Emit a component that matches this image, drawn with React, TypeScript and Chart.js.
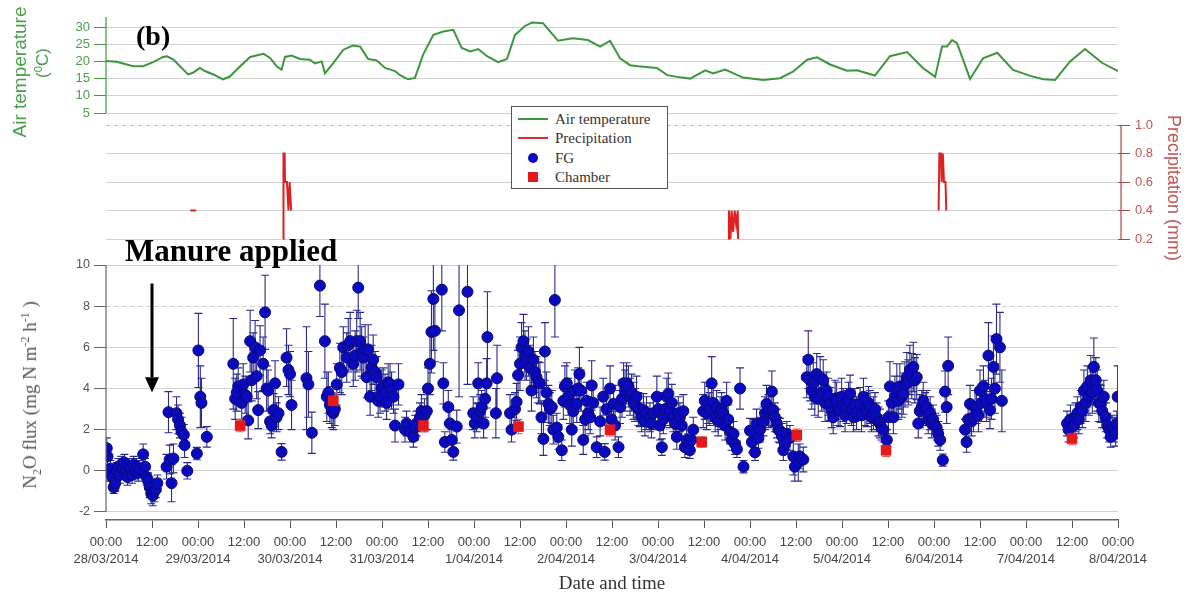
import React, { useEffect, useRef } from 'react';
import { Chart, registerables } from 'chart.js';

Chart.register(...registerables);

// ---------- axis labels ----------
const dayLabels = ['28/03/2014', '29/03/2014', '30/03/2014', '31/03/2014', '1/04/2014', '2/04/2014', '3/04/2014', '4/04/2014', '5/04/2014', '6/04/2014', '7/04/2014', '8/04/2014'];
const timeLabels = ['00:00', '12:00'];
const xTickHours = [0, 12, 24, 36, 48, 60, 72, 84, 96, 108, 120, 132, 144, 156, 168, 180, 192, 204, 216, 228, 240, 252, 264];
const tempTicks = [5, 10, 15, 20, 25, 30];
const precipTicks = [0.2, 0.4, 0.6, 0.8, 1.0];
const fluxTicks = [-2, 0, 2, 4, 6, 8, 10];

// ---------- air temperature (hours since 28/03/2014 00:00, °C) ----------
const tempHours = [0, 2.8, 5.4, 7.1, 9.7, 12.3, 14.9, 15.9, 17.5, 19.3, 21.4, 22.7, 24.5, 25.8, 28.0, 30.5, 32.3, 35.0, 37.6, 41.1, 42.8, 44.5, 45.8, 46.7, 48.4, 50.6, 53.2, 54.5, 56.3, 57.1, 59.3, 61.9, 64.4, 66.3, 68.4, 70.6, 72.8, 75.4, 76.7, 78.8, 80.6, 82.7, 85.4, 88.0, 90.6, 92.8, 95.0, 97.1, 99.4, 102.3, 104.6, 106.7, 109.3, 111.1, 114.0, 117.9, 121.8, 125.7, 128.9, 131.5, 134.1, 136.7, 138.8, 143.7, 146.4, 149.0, 152.4, 156.3, 158.4, 161.5, 166.2, 171.4, 175.8, 179.2, 182.9, 185.5, 188.9, 193.3, 195.9, 200.6, 204.5, 209.0, 213.1, 216.3, 218.1, 219.4, 220.7, 222.0, 223.3, 225.4, 228.8, 232.5, 236.6, 241.1, 244.5, 247.6, 251.5, 255.4, 259.8, 264.0];
const tempValues = [20.1, 19.9, 19.1, 18.6, 18.6, 19.8, 21.3, 21.5, 20.6, 18.6, 16.2, 16.7, 18.1, 17.2, 16.2, 14.8, 15.6, 18.6, 21.3, 22.2, 21.0, 18.6, 17.6, 21.3, 21.7, 20.7, 20.5, 19.4, 20.0, 16.5, 19.5, 23.4, 24.6, 24.3, 20.7, 20.3, 18.1, 17.2, 16.0, 14.8, 15.2, 21.9, 27.7, 28.7, 29.2, 23.9, 22.9, 23.6, 21.5, 19.8, 20.7, 27.7, 30.3, 31.3, 31.1, 26.0, 26.7, 26.2, 24.3, 26.0, 20.9, 18.9, 18.6, 18.1, 16.0, 15.5, 15.0, 17.4, 16.5, 17.6, 15.3, 14.6, 15.1, 17.0, 20.5, 21.2, 19.1, 17.3, 17.4, 15.9, 21.5, 22.7, 18.1, 15.5, 24.3, 24.3, 26.2, 25.3, 21.4, 14.9, 20.9, 22.5, 17.5, 15.8, 14.8, 14.6, 20.0, 23.6, 19.6, 17.2];

// ---------- precipitation (mm), null = no rain ----------
const precipHours = [22.0, 23.5, 23.6, 46.2, 46.3, 46.6, 46.7, 47.2, 47.6, 47.9, 48.3, 48.4, 162.4, 162.5, 162.9, 163.2, 163.6, 164.0, 164.4, 164.8, 164.9, 165.0, 217.2, 217.4, 217.8, 218.0, 218.3, 218.6, 219.0, 219.2];
const precipValues = [0.4, 0.4, null, 0.2, 0.8, 0.8, 0.6, 0.6, 0.4, 0.6, 0.4, null, 0.2, 0.4, 0.2, 0.4, 0.25, 0.4, 0.3, 0.4, 0.2, null, 0.4, 0.8, 0.8, 0.6, 0.8, 0.6, 0.6, 0.4];

// ---------- FG N2O flux (mg N m-2 h-1) ----------
const fgHours = [
  0.2, 0.4, 0.8, 1.2, 1.6, 2.0, 2.4, 2.8, 3.2, 3.6, 4.0, 4.4,
  4.8, 5.2, 5.6, 6.0, 6.4, 6.8, 7.2, 7.6, 8.0, 8.4, 8.8, 9.7,
  10.2, 10.6, 11.0, 11.4, 11.8, 12.2, 12.6, 13.0, 13.4, 15.8, 16.3, 16.6,
  17.1, 17.6, 18.4, 18.8, 19.3, 19.7, 20.3, 20.5, 21.2, 23.7, 24.1, 24.6,
  24.9, 26.3,
  33.2, 33.7, 34.1, 34.5, 35.4, 35.8, 36.3, 36.7, 37.1, 37.6, 38.0, 38.4,
  38.9, 39.3, 39.7, 40.2, 41.0, 41.5, 41.9, 42.3, 42.8, 43.2, 43.7, 44.1,
  44.5, 45.0, 45.8, 47.1, 47.6, 48.0, 48.4,
  52.3, 52.8, 53.7, 55.8, 57.1, 57.6, 58.0, 58.4, 58.9, 59.3, 59.7, 60.2,
  61.0, 61.5, 61.9, 62.8, 63.2, 63.7, 64.5, 65.0, 65.4, 65.8, 66.3, 66.7,
  67.1, 67.6, 68.0, 68.4, 68.9, 69.3, 69.7, 70.2, 70.6, 71.0, 71.5, 71.9,
  72.3, 72.8, 73.2, 73.6, 74.1, 74.5, 75.0, 75.4, 76.3,
  78.0, 78.4, 79.3, 80.2, 80.6, 81.0, 81.9, 82.3, 83.1, 83.7, 84.0, 84.5,
  84.9, 85.4, 85.8, 87.6, 88.0, 88.4, 89.3, 89.7, 90.2, 90.6, 91.5, 92.1,
  94.3, 95.8, 96.2, 96.7, 97.1, 97.6, 98.0, 98.5, 98.9, 99.3, 99.5, 101.7,
  102.0,
  105.4, 105.8, 106.7, 107.1, 107.5, 108.0, 108.4, 108.9, 109.3, 109.7, 110.2, 110.6,
  111.0, 111.5, 111.9, 112.3, 112.8, 113.2, 113.6, 114.1, 114.5, 114.9, 115.4, 115.8,
  116.3, 116.7, 117.1, 117.6, 118.0, 118.9, 119.3, 119.7, 120.2, 120.6, 121.0, 121.5,
  121.9, 122.3, 122.8, 123.2, 123.5, 123.9, 124.5, 125.0, 125.4, 125.8, 126.3, 126.7,
  127.1, 128.0, 128.9, 129.7, 130.1, 130.6, 131.5, 131.9, 132.4, 132.8, 133.7, 134.1,
  134.6, 135.0, 135.4, 135.8, 136.3, 136.7, 137.1, 137.6, 138.0, 138.4, 138.9, 139.3,
  139.7, 140.2, 140.6, 141.0, 141.9, 142.3, 142.8, 143.7, 144.1, 144.5, 145.0, 145.4,
  145.9, 146.3, 146.7, 147.1, 147.6, 148.0, 148.5, 148.9, 149.3, 149.7, 150.2, 150.6,
  151.0, 151.5, 151.9, 152.3, 152.8, 153.2, 155.8, 156.2, 156.7, 157.1, 157.5, 158.0,
  158.4, 158.9, 159.3, 159.7, 160.2, 160.6, 161.0, 161.5, 161.9, 162.3, 162.8, 163.2,
  163.7, 164.1, 164.6, 165.4, 166.3, 168.0, 168.5, 168.9, 169.3, 169.7, 170.2, 170.6,
  171.5, 171.9, 172.3, 172.8, 173.2, 173.7, 174.1, 174.5, 175.0, 175.4, 175.8, 176.3,
  176.7, 177.1, 177.6, 178.4, 179.3, 179.7, 180.6, 181.0, 181.9,
  182.8, 183.2, 183.7, 184.1, 184.5, 184.9, 185.4, 185.8, 186.3, 186.7, 187.1, 187.6,
  188.0, 188.4, 188.9, 189.3, 189.7, 190.2, 190.6, 191.0, 191.5, 191.9, 192.3, 192.8,
  193.2, 193.7, 194.1, 194.5, 195.0, 195.4, 195.8, 196.7, 197.1, 197.6, 198.0, 198.5,
  198.9, 199.3, 199.7, 200.2, 200.6, 201.0, 201.5, 201.9, 202.3, 202.8, 203.7, 204.1,
  204.5, 205.0, 205.4, 205.8, 206.3, 206.7, 207.1, 207.6, 208.0, 208.4, 208.9, 209.3,
  209.7, 210.2, 210.6, 211.0, 211.5, 211.9, 212.3, 212.8, 213.2, 213.7, 214.1, 214.5,
  215.0, 215.4, 215.8, 216.3, 216.7, 217.1, 217.6, 218.3, 218.9, 219.3, 219.7,
  224.1, 224.5, 224.9, 225.4, 225.8, 226.3, 226.7, 227.1, 227.6, 228.0, 228.4, 228.9,
  229.3, 229.7, 230.2, 230.6, 231.0, 231.5, 231.9, 232.3, 233.2, 233.7,
  250.7, 251.1, 251.6, 252.5, 252.9, 253.4, 253.8, 254.3, 254.7, 255.1, 255.6, 256.0,
  256.4, 256.9, 257.3, 257.7, 258.2, 258.6, 259.0, 259.5, 259.9, 260.3, 260.8, 261.2,
  261.7, 262.1, 262.5, 263.0, 263.4, 263.7, 263.9,
];
const fgFlux = [
  1.1, 0.7, -0.1, 0.1, -0.3, -0.8, -0.6, 0.0, 0.2, -0.2, 0.3, 0.1,
  0.4, 0.0, -0.3, 0.2, 0.1, -0.2, 0.3, 0.0, 0.2, -0.1, 0.1, 0.8,
  0.2, -0.3, -0.5, -0.8, -1.1, -1.2, -1.0, -0.9, -0.6, 0.2, 2.85, 0.55,
  -0.6, 0.6, 2.8, 2.5, 2.2, 1.9, 1.75, 1.25, 0.0, 0.84, 5.85, 3.6,
  3.3, 1.65,
  5.2, 3.5, 3.8, 4.1, 3.3, 4.2, 3.7, 3.6, 2.45, 6.3, 4.4, 5.5,
  6.0, 4.6, 2.95, 5.85, 5.2, 7.7, 4.0, 3.9, 2.4, 2.2, 2.95, 4.25,
  2.6, 2.8, 0.92, 5.5, 4.9, 4.7, 3.2,
  4.5, 4.2, 1.85, 9.0, 6.3, 3.6, 3.8, 3.2, 2.9, 2.8, 3.0, 4.2,
  5.0, 4.8, 6.0, 5.5, 6.1, 6.3, 5.2, 5.6, 6.3, 8.9, 6.3, 5.8,
  5.5, 5.9, 4.55, 5.9, 3.6, 5.0, 5.4, 4.8, 4.55, 3.4, 3.6, 4.0,
  4.1, 3.8, 3.3, 4.3, 4.2, 3.9, 3.6, 2.2, 4.2,
  2.0, 2.3, 1.9, 1.65, 2.1, 2.3, 2.6, 2.9, 2.7, 2.9, 4.0, 5.2,
  6.75, 8.35, 6.8, 8.8, 4.25, 1.4, 3.1, 2.3, 1.5, 0.92, 2.15, 7.8,
  8.7, 2.8, 2.3, 2.6, 4.25, 2.9, 3.1, 2.3, 3.5, 4.25, 6.5, 2.8,
  4.5,
  2.8, 2.0, 3.0, 3.35, 4.65, 5.2, 6.0, 6.3, 5.6, 5.4, 5.8, 5.0,
  3.9, 5.4, 4.8, 4.55, 4.3, 4.25, 2.6, 1.55, 5.8, 3.8, 3.25, 3.0,
  3.1, 2.0, 8.3, 2.1, 1.65, 1.0, 3.4, 4.1, 4.25, 3.6, 3.2, 2.0,
  2.9, 3.9, 3.25, 4.0, 4.7, 3.9, 1.5, 2.5, 3.4, 2.8, 2.6, 4.15,
  3.3, 1.15, 2.4, 3.6, 0.92, 3.0, 4.0, 2.5, 3.25, 2.2, 1.15, 3.1,
  3.5, 4.25, 3.9, 4.25, 4.1, 3.6, 3.8, 3.4, 3.2, 3.6, 3.0, 2.95,
  2.6, 2.95, 2.4, 2.8, 2.6, 2.3, 2.8, 3.6, 3.0, 2.2, 1.15, 2.5,
  3.0, 3.6, 3.75, 2.9, 3.3, 2.6, 2.3, 1.65, 2.8, 2.6, 2.2, 2.9,
  1.15, 1.5, 1.3, 1.0, 1.5, 2.0, 2.9, 3.4, 2.8, 3.2, 3.0, 4.25,
  3.3, 2.6, 3.1, 2.4, 2.8, 3.0, 2.8, 2.2, 3.4, 2.5, 1.9, 1.5,
  1.8, 1.3, 1.05, 4.0, 0.2, 1.95, 1.4, 1.9, 0.9, 2.3, 1.6, 2.0,
  2.4, 2.8, 3.25, 2.9, 3.0, 3.85, 2.95, 2.6, 2.3, 2.0, 1.95, 1.7,
  1.0, 1.3, 1.8, 1.6, 0.7, 0.2, 0.4, 0.7, 0.55,
  4.55, 5.4, 4.4, 3.9, 4.25, 3.6, 4.7, 3.5, 4.55, 3.8, 4.4, 3.3,
  3.9, 3.6, 3.25, 2.9, 2.6, 3.5, 3.4, 3.0, 2.95, 3.6, 3.2, 2.7,
  3.1, 3.4, 3.75, 3.0, 2.6, 3.2, 2.8, 3.25, 2.7, 3.6, 3.0, 2.95,
  3.3, 3.1, 2.6, 2.8, 3.0, 2.6, 2.4, 2.3, 2.1, 2.0, 1.5, 2.6,
  4.1, 3.3, 2.6, 3.6, 4.0, 3.4, 4.1, 3.6, 3.75, 4.2, 4.55, 4.3,
  4.9, 4.6, 5.05, 4.4, 4.55, 2.3, 2.9, 3.1, 3.4, 3.0, 3.1, 2.5,
  2.8, 2.3, 2.5, 2.2, 2.1, 1.8, 1.5, 0.52, 3.85, 3.1, 5.1,
  2.0, 1.4, 2.5, 3.25, 2.4, 2.6, 3.1, 3.1, 2.7, 3.9, 3.3, 4.1,
  3.5, 3.3, 5.6, 2.95, 3.5, 5.05, 4.0, 6.4, 6.0, 3.4,
  2.3, 2.0, 2.5, 2.2, 2.6, 2.8, 2.5, 3.1, 2.9, 3.9, 3.3, 4.1,
  3.6, 4.4, 3.8, 5.05, 4.4, 3.9, 3.3, 3.25, 2.9, 3.6, 2.6, 2.2,
  2.0, 1.65, 2.1, 2.0, 1.8, 2.3, 3.6,
];
const fgErr = [
  0.5, 0.4, 0.4, 0.4, 0.4, 0.3, 0.4, 0.4, 0.4, 0.4, 0.4, 0.3,
  0.4, 0.4, 0.4, 0.4, 0.3, 0.4, 0.4, 0.4, 0.4, 0.4, 0.4, 0.5,
  0.4, 0.4, 0.4, 0.5, 0.5, 0.5, 0.5, 0.4, 0.4, 0.6, 1.0, 0.7,
  0.9, 0.7, 0.8, 0.7, 0.6, 0.7, 0.5, 0.6, 0.4, 0.3, 1.8, 1.5,
  1.2, 0.5,
  2.2, 1.0, 0.9, 0.9, 0.8, 1.0, 0.9, 1.0, 0.9, 1.5, 1.0, 1.2,
  1.3, 1.1, 0.9, 1.2, 1.3, 1.8, 1.1, 1.0, 0.6, 0.6, 0.8, 1.1,
  0.7, 0.8, 0.4, 1.4, 1.2, 1.1, 1.2,
  2.5, 1.6, 1.0, 1.5, 1.8, 1.2, 1.0, 0.9, 0.8, 0.8, 0.8, 1.0,
  1.2, 1.1, 1.0, 1.2, 1.3, 1.4, 1.1, 1.2, 1.5, 1.5, 1.4, 1.2,
  1.0, 1.2, 1.0, 1.2, 0.9, 1.1, 1.2, 1.0, 1.0, 0.8, 0.8, 0.9,
  0.9, 0.9, 0.8, 0.9, 1.0, 0.9, 0.8, 0.8, 1.0,
  0.6, 0.6, 0.5, 0.5, 0.6, 0.6, 0.7, 0.8, 0.8, 0.9, 1.0, 1.5,
  2.0, 2.5, 1.5, 2.0, 1.0, 0.5, 0.8, 0.7, 0.5, 0.4, 0.8, 4.2,
  4.5, 0.8, 0.7, 0.7, 1.0, 0.8, 0.8, 0.7, 0.9, 1.2, 2.2, 1.2,
  1.6,
  0.9, 0.6, 0.8, 0.9, 1.2, 1.3, 1.2, 1.3, 1.2, 1.0, 1.2, 1.1,
  1.0, 1.1, 1.0, 1.0, 1.0, 1.0, 0.8, 0.8, 1.4, 1.0, 0.9, 0.8,
  0.8, 0.7, 1.8, 0.7, 0.6, 0.5, 0.9, 1.0, 1.0, 0.9, 0.9, 0.8,
  0.8, 1.0, 0.9, 1.0, 1.3, 1.0, 0.7, 0.8, 0.9, 0.8, 0.8, 1.2,
  0.9, 0.5, 0.7, 0.9, 0.4, 0.8, 1.1, 0.7, 0.9, 0.7, 0.5, 0.8,
  0.9, 1.0, 1.0, 1.0, 1.0, 0.9, 0.9, 0.9, 0.8, 1.0, 0.8, 0.8,
  0.7, 0.8, 0.7, 0.8, 0.7, 0.7, 0.8, 1.0, 0.8, 0.7, 0.4, 0.7,
  0.8, 0.9, 1.0, 0.8, 0.9, 0.7, 0.7, 0.6, 0.8, 0.7, 0.7, 0.8,
  0.5, 0.5, 0.5, 0.4, 0.5, 0.6, 0.8, 0.9, 0.8, 0.9, 0.8, 1.3,
  0.9, 0.7, 0.8, 0.7, 0.8, 0.8, 0.8, 0.7, 0.9, 0.7, 0.6, 0.5,
  0.6, 0.5, 0.4, 1.0, 0.3, 0.6, 0.5, 0.6, 0.4, 0.7, 0.5, 0.6,
  0.7, 0.8, 0.9, 0.8, 0.8, 1.0, 0.8, 0.7, 0.7, 0.6, 0.6, 0.6,
  0.5, 0.5, 0.6, 0.6, 0.9, 0.7, 0.9, 0.6, 0.6,
  1.0, 1.4, 1.0, 0.9, 1.0, 0.9, 1.0, 0.9, 1.0, 0.9, 1.0, 0.9,
  0.9, 0.9, 0.8, 0.8, 0.8, 0.9, 0.9, 0.8, 0.8, 0.9, 0.8, 0.8,
  0.8, 0.9, 0.9, 0.8, 0.7, 0.8, 0.8, 0.8, 0.8, 0.9, 0.8, 0.8,
  0.8, 0.8, 0.7, 0.8, 0.8, 0.7, 0.7, 0.7, 0.6, 0.6, 0.5, 0.8,
  1.2, 0.9, 0.8, 1.0, 1.2, 0.9, 1.1, 1.0, 1.0, 1.1, 1.2, 1.1,
  1.2, 1.1, 1.2, 1.1, 1.1, 0.7, 0.8, 0.8, 0.9, 0.8, 0.8, 0.7,
  0.8, 0.7, 0.7, 0.6, 0.6, 0.6, 0.5, 0.3, 1.0, 0.8, 1.4,
  0.5, 0.5, 0.7, 0.9, 0.7, 0.7, 0.8, 0.8, 0.8, 1.0, 0.9, 1.0,
  0.9, 0.9, 1.6, 0.9, 1.0, 1.5, 1.2, 1.7, 1.7, 1.5,
  0.6, 0.6, 0.7, 0.6, 0.7, 0.8, 0.7, 0.8, 0.8, 1.0, 0.9, 1.0,
  0.9, 1.2, 1.0, 1.4, 1.1, 1.0, 0.9, 0.9, 0.8, 0.8, 0.7, 0.6,
  0.6, 0.5, 0.6, 0.6, 0.6, 0.6, 1.5,
];

// ---------- Chamber N2O flux ----------
const chamberHours = [35.0, 59.3, 82.8, 107.6, 131.5, 155.4, 180.2, 203.5, 252.0];
const chamberFlux = [2.2, 3.4, 2.2, 2.15, 2.0, 1.4, 1.73, 1.0, 1.57];
const chamberErr = [0.3, 0.4, 0.3, 0.35, 0.3, 0.25, 0.3, 0.3, 0.3];

// annotation arrow (hour, flux values)
const arrowHour = 12;
const arrowFrom = 9.1;
const arrowHeadStart = 4.55;
const arrowTo = 3.8;

const FLUX_TOP = 10;
const SANS = '"Liberation Sans", Arial, sans-serif';
const SERIF = '"Liberation Serif", "Times New Roman", serif';

const overlayPlugin = {
  id: 'overlay',
  beforeDatasetsDraw(chart: any) {
    const { ctx, chartArea, scales } = chart;
    const xs = scales.x;
    const yN = scales.yN;
    ctx.save();
    ctx.beginPath();
    ctx.rect(chartArea.left, chartArea.top, chartArea.right - chartArea.left, chartArea.bottom - chartArea.top);
    ctx.clip();
    const bars = (hs: number[], vs: number[], es: number[], color: string) => {
      ctx.strokeStyle = color;
      ctx.lineWidth = 1.1;
      ctx.beginPath();
      for (let i = 0; i < hs.length; i++) {
        const px = xs.getPixelForValue(hs[i]);
        const hiV = vs[i] + es[i];
        const top = yN.getPixelForValue(Math.min(hiV, FLUX_TOP));
        const bot = yN.getPixelForValue(vs[i] - es[i]);
        ctx.moveTo(px, top);
        ctx.lineTo(px, bot);
        if (hiV <= FLUX_TOP) {
          ctx.moveTo(px - 4, top);
          ctx.lineTo(px + 4, top);
        }
        ctx.moveTo(px - 4, bot);
        ctx.lineTo(px + 4, bot);
      }
      ctx.stroke();
    };
    bars(fgHours, fgFlux, fgErr, '#2a2a8c');
    bars(chamberHours, chamberFlux, chamberErr, '#e05a5a');
    ctx.restore();
  },
  afterDatasetsDraw(chart: any) {
    const { ctx, chartArea, scales } = chart;
    const xs = scales.x;
    const yN = scales.yN;
    const yT = scales.yT;
    const yP = scales.yP;
    ctx.save();
    // temperature tick labels (the 0-width axis cannot draw its own)
    ctx.fillStyle = '#4aa04a';
    ctx.font = `13px ${SANS}`;
    ctx.textAlign = 'right';
    ctx.textBaseline = 'middle';
    for (const t of tempTicks) {
      ctx.fillText(String(t), chartArea.left - 16, yT.getPixelForValue(t));
    }
    // axis lines
    ctx.lineWidth = 1.2;
    ctx.strokeStyle = '#3f9a3f';
    ctx.beginPath();
    ctx.moveTo(chartArea.left, chartArea.top);
    ctx.lineTo(chartArea.left, yT.getPixelForValue(5));
    ctx.stroke();
    ctx.strokeStyle = '#666';
    ctx.beginPath();
    ctx.moveTo(chartArea.left, yN.getPixelForValue(10));
    ctx.lineTo(chartArea.left, yN.getPixelForValue(-2));
    ctx.stroke();
    ctx.strokeStyle = '#a54848';
    ctx.beginPath();
    ctx.moveTo(chartArea.right + 3, yP.getPixelForValue(1.0));
    ctx.lineTo(chartArea.right + 3, yP.getPixelForValue(0.2));
    ctx.stroke();
    // arrow
    const ax = xs.getPixelForValue(arrowHour);
    const a0 = yN.getPixelForValue(arrowFrom);
    const a1 = yN.getPixelForValue(arrowHeadStart);
    const a2 = yN.getPixelForValue(arrowTo);
    ctx.strokeStyle = '#000';
    ctx.fillStyle = '#000';
    ctx.lineWidth = 3;
    ctx.beginPath();
    ctx.moveTo(ax, a0);
    ctx.lineTo(ax, a1);
    ctx.stroke();
    ctx.beginPath();
    ctx.moveTo(ax - 7, a1);
    ctx.lineTo(ax + 7, a1);
    ctx.lineTo(ax, a2);
    ctx.closePath();
    ctx.fill();
    ctx.restore();
  },
};

function Rot({ cx, cy, deg, style, children }: any) {
  return (
    <div style={{ position: 'absolute', left: cx, top: cy, width: 0, height: 0 }}>
      <div
        style={{
          position: 'absolute',
          left: 0,
          top: 0,
          transform: `translate(-50%, -50%) rotate(${deg}deg)`,
          whiteSpace: 'nowrap',
          lineHeight: 1,
          ...style,
        }}
      >
        {children}
      </div>
    </div>
  );
}

function Legend() {
  const row = (top: number, symbol: any, text: string) => (
    <div style={{ position: 'absolute', left: 0, top: top - 10, height: 20, width: '100%' }}>
      <div style={{ position: 'absolute', left: 6, top: 0, width: 30, height: 20, display: 'flex', alignItems: 'center', justifyContent: 'center' }}>{symbol}</div>
      <div style={{ position: 'absolute', left: 43, top: 0, height: 20, lineHeight: '20px' }}>{text}</div>
    </div>
  );
  return (
    <div
      style={{
        position: 'absolute',
        left: 511,
        top: 106,
        width: 157,
        height: 83,
        boxSizing: 'border-box',
        border: '1px solid #555',
        background: '#fff',
        fontFamily: SERIF,
        fontSize: 15,
        color: '#333',
      }}
    >
      {row(12, <div style={{ width: 30, height: 2, background: '#3a983a' }} />, 'Air temperature')}
      {row(31, <div style={{ width: 30, height: 2, background: '#d83030' }} />, 'Precipitation')}
      {row(51, <div style={{ width: 10, height: 10, borderRadius: '50%', background: '#0b0bbd' }} />, 'FG')}
      {row(70, <div style={{ width: 10, height: 10, background: '#e41a1a' }} />, 'Chamber')}
    </div>
  );
}

export default function App() {
  const canvasRef = useRef<HTMLCanvasElement | null>(null);

  useEffect(() => {
    if (!canvasRef.current) return;
    const gridColor = '#d2d2d2';
    const chart = new Chart(canvasRef.current, {
      type: 'scatter',
      data: {
        datasets: [
          {
            label: 'Chamber',
            data: chamberHours.map((h, i) => ({ x: h, y: chamberFlux[i] })),
            yAxisID: 'yN',
            pointStyle: 'rect',
            pointRadius: 7.5,
            backgroundColor: '#e41a1a',
            borderColor: '#e41a1a',
            borderWidth: 0,
            order: 0,
          },
          {
            label: 'FG',
            data: fgHours.map((h, i) => ({ x: h, y: fgFlux[i] })),
            yAxisID: 'yN',
            pointRadius: 5.5,
            backgroundColor: '#0b0bbd',
            borderColor: '#07077e',
            borderWidth: 1,
            order: 1,
          },
          {
            label: 'Air temperature',
            data: tempHours.map((h, i) => ({ x: h, y: tempValues[i] })),
            yAxisID: 'yT',
            showLine: true,
            pointRadius: 0,
            borderColor: '#3a983a',
            borderWidth: 2,
            order: 2,
          },
          {
            label: 'Precipitation',
            data: precipHours.map((h, i) => ({ x: h, y: precipValues[i] })),
            yAxisID: 'yP',
            showLine: true,
            spanGaps: false,
            pointRadius: 0,
            borderColor: '#e02020',
            borderWidth: 2,
            order: 3,
          },
        ],
      } as any,
      options: {
        responsive: false,
        animation: false,
        events: [],
        devicePixelRatio: 1,
        layout: { padding: { top: 17, left: 0, right: 0, bottom: 0 } },
        plugins: { legend: { display: false }, tooltip: { enabled: false } },
        scales: {
          x: {
            type: 'linear',
            min: 0,
            max: 264,
            afterBuildTicks: (s: any) => {
              s.ticks = xTickHours.map((v) => ({ value: v }));
            },
            afterFit: (s: any) => {
              s.height = 75;
            },
            ticks: {
              autoSkip: false,
              maxRotation: 0,
              minRotation: 0,
              padding: 6,
              color: '#444',
              font: { family: SANS, size: 13, lineHeight: 1.3 },
              callback: (v: any) => {
                const h = Number(v);
                if (h % 24 === 0) return [timeLabels[0], dayLabels[h / 24]];
                return timeLabels[1];
              },
            },
            grid: { drawOnChartArea: false, drawTicks: true, tickLength: 8, tickColor: '#555' },
            border: { display: true, color: '#666', width: 1.5 },
          },
          yN: {
            type: 'linear',
            position: 'left',
            weight: 1,
            min: -2.389,
            max: 22.049,
            afterBuildTicks: (s: any) => {
              s.ticks = fluxTicks.map((v) => ({ value: v }));
            },
            afterFit: (s: any) => {
              s.width = 106;
            },
            ticks: { autoSkip: false, padding: 4, color: '#555', font: { family: SANS, size: 12.5 } },
            grid: { color: gridColor, tickLength: 12, tickColor: '#666' },
            border: { display: false, dash: (c: any) => (c.tick && c.tick.value === 8 ? [5, 3] : []) },
          },
          yT: {
            type: 'linear',
            position: 'left',
            weight: 0,
            min: -113.314,
            max: 32.907,
            afterBuildTicks: (s: any) => {
              s.ticks = tempTicks.map((v) => ({ value: v }));
            },
            afterFit: (s: any) => {
              s.width = 0;
            },
            ticks: { autoSkip: false, display: false },
            grid: { color: gridColor, tickLength: 12, tickColor: '#3f9a3f' },
            border: { display: false },
          },
          yP: {
            type: 'linear',
            position: 'right',
            min: -1.7719,
            max: 1.7579,
            afterBuildTicks: (s: any) => {
              s.ticks = precipTicks.map((v) => ({ value: v }));
            },
            afterFit: (s: any) => {
              s.width = 70;
            },
            ticks: { autoSkip: false, padding: 5, color: '#c05555', font: { family: SANS, size: 13 }, callback: (v: any) => Number(v).toFixed(1) },
            grid: {
              color: (c: any) => (c.tick && c.tick.value === 1 ? '#e2b8b8' : gridColor),
              tickLength: 12,
              tickColor: '#a54848',
            },
            border: { display: false, dash: (c: any) => (c.tick && c.tick.value === 1 ? [5, 3] : []) },
          },
        },
      } as any,
      plugins: [overlayPlugin],
    });
    return () => chart.destroy();
  }, []);

  return (
    <div style={{ position: 'absolute', left: 0, top: 0, width: 1188, height: 595, background: '#fff', overflow: 'hidden' }}>
      <canvas ref={canvasRef} width={1188} height={595} style={{ position: 'absolute', left: 0, top: 0, width: 1188, height: 595 }} />
      <Rot cx={19} cy={72} deg={-90} style={{ fontFamily: SANS, fontSize: 19, color: '#4aa04a' }}>Air temperature</Rot>
      <Rot cx={42} cy={63} deg={-90} style={{ fontFamily: SANS, fontSize: 17, color: '#4aa04a' }}>
        (<sup style={{ fontSize: 11 }}>0</sup>C)
      </Rot>
      <Rot cx={31} cy={395} deg={-90} style={{ fontFamily: SERIF, fontSize: 19, color: '#555' }}>
        N<sub style={{ fontSize: 12 }}>2</sub>O flux (mg N m<sup style={{ fontSize: 12 }}>-2</sup> h<sup style={{ fontSize: 12 }}>-1</sup> )
      </Rot>
      <Rot cx={1174} cy={188} deg={90} style={{ fontFamily: SANS, fontSize: 18, color: '#c05555' }}>Precipitation (mm)</Rot>
      <Rot cx={612} cy={582} deg={0} style={{ fontFamily: SERIF, fontSize: 19, color: '#333' }}>Date and time</Rot>
      <div style={{ position: 'absolute', left: 136, top: 22, fontFamily: SERIF, fontWeight: 'bold', fontSize: 28, lineHeight: '28px', color: '#000' }}>(b)</div>
      <div style={{ position: 'absolute', left: 125, top: 235, fontFamily: SERIF, fontWeight: 'bold', fontSize: 31, lineHeight: '31px', color: '#000', whiteSpace: 'nowrap' }}>Manure applied</div>
      <Legend />
    </div>
  );
}
